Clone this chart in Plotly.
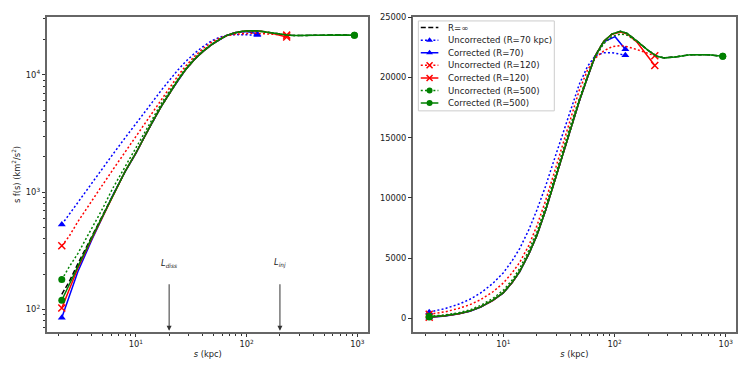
import math
import plotly.graph_objects as go

# ---------------- data ----------------
S_GRID = [2.15, 2.5, 3, 4, 5, 6.2, 8, 10, 12, 14, 17, 20, 24, 28, 34, 40, 48, 57,
          67, 80, 95, 113, 130, 160, 200, 240, 280, 350, 480, 700, 940]

SF_INF = [135, 172, 245, 415, 625, 952, 1500, 2150, 3000, 3900, 5400, 6900, 9000,
          11000, 13600, 15700, 18000, 20000, 21800, 23000, 23600, 23820, 23650,
          23000, 22250, 21750, 21620, 21700, 21880, 21880, 21760]

S_R70_UNC = [2.15, 2.5, 3, 4, 5, 6.2, 8, 10, 12, 14, 17, 20, 24, 28, 34, 40, 48, 57,
             67, 80, 95, 110, 125]
SF_R70_UNC = [530, 645, 830, 1200, 1600, 2100, 2900, 3800, 4800, 5800, 7400, 9000,
              11000, 12900, 15300, 17300, 19400, 20900, 21800, 22050, 22050, 21950, 21830]

S_R70_COR = [2.15, 2.5, 3, 4, 5, 6.2, 8, 10, 12, 14, 17, 20, 24, 28, 34, 40, 48, 57,
             67, 80, 95, 101, 125]
SF_R70_COR = [85, 130, 210, 390, 610, 940, 1490, 2130, 2980, 3880, 5380, 6880, 8980,
              10980, 13580, 15680, 17980, 19980, 21780, 22950, 23300, 23380, 22340]

S_R120_UNC = [2.15, 2.5, 3, 4, 5, 6.2, 8, 10, 12, 14, 17, 20, 24, 28, 34, 40, 48, 57,
              67, 80, 95, 113, 130, 160, 200, 230]
SF_R120_UNC = [350, 420, 560, 850, 1150, 1550, 2200, 2950, 3800, 4650, 6100, 7700,
               9800, 11800, 14400, 16600, 18900, 20600, 21600, 22200, 22550, 22640,
               22550, 22300, 22000, 21800]

S_R120_COR = [2.15, 2.5, 3, 4, 5, 6.2, 8, 10, 12, 14, 17, 20, 24, 28, 34, 40, 48, 57,
              67, 80, 95, 113, 130, 160, 190, 230]
SF_R120_COR = [103, 145, 225, 400, 615, 945, 1495, 2145, 2995, 3895, 5395, 6895, 8995,
               10995, 13595, 15695, 17995, 19995, 21795, 22990, 23580, 23760, 23600,
               22900, 22020, 20990]

SF_R500_UNC = [180, 230, 300, 490, 720, 1080, 1650, 2350, 3200, 4150, 5700, 7200, 9300,
               11300, 13900, 16000, 18200, 20150, 21700, 22800, 23400, 23600, 23500,
               22950, 22250, 21750, 21620, 21700, 21880, 21880, 21760]

SF_R500_COR = [120, 160, 232, 408, 618, 948, 1498, 2148, 2998, 3898, 5398, 6898, 8998,
               10998, 13598, 15698, 17998, 19998, 21798, 22998, 23598, 23818, 23648,
               22998, 22248, 21748, 21618, 21698, 21878, 21878, 21758]

LEGEND_NAMES = ["R=∞", "Uncorrected (R=70 kpc)", "Corrected (R=70)",
                "Uncorrected (R=120)", "Corrected (R=120)",
                "Uncorrected (R=500)", "Corrected (R=500)"]

X_TICKS = [10, 100, 1000]
X_TICK_TEXT = ["10<sup>1</sup>", "10<sup>2</sup>", "10<sup>3</sup>"]
YL_TICKS = [100, 1000, 10000]
YL_TICK_TEXT = ["10<sup>2</sup>", "10<sup>3</sup>", "10<sup>4</sup>"]
YR_TICKS = [0, 5000, 10000, 15000, 20000, 25000]

L_DISS = 20
L_INJ = 200

# ---------------- styling ----------------
BLUE, RED, GREEN, BLACK = "#0000ff", "#ff0000", "#008000", "#000000"
DOT = "2px,2.2px"
DASH = "5px,2.5px"
FONT = "DejaVu Sans"
FS = 8.3
FS_LEG = 8.6

series = [
    (S_GRID, SF_INF, BLACK, DASH, None),
    (S_R70_UNC, SF_R70_UNC, BLUE, DOT, "triangle-up"),
    (S_R70_COR, SF_R70_COR, BLUE, "solid", "triangle-up"),
    (S_R120_UNC, SF_R120_UNC, RED, DOT, "x-thin"),
    (S_R120_COR, SF_R120_COR, RED, "solid", "x-thin"),
    (S_GRID, SF_R500_UNC, GREEN, DOT, "circle"),
    (S_GRID, SF_R500_COR, GREEN, "solid", "circle"),
]


def marker_style(symbol, color, size=7):
    if symbol == "x-thin":
        return dict(symbol=symbol, size=size, color=color, line=dict(color=color, width=1.5))
    return dict(symbol=symbol, size=size, color=color, line=dict(width=0))


fig = go.Figure()
for xa, ya in [("x", "y"), ("x2", "y2")]:
    for s, v, color, dash, symbol in series:
        fig.add_trace(go.Scatter(x=s, y=v, mode="lines", xaxis=xa, yaxis=ya,
                                 line=dict(color=color, width=1.5, dash=dash),
                                 showlegend=False, hoverinfo="skip"))
        if symbol:
            fig.add_trace(go.Scatter(x=[s[0], s[-1]], y=[v[0], v[-1]], mode="markers",
                                     xaxis=xa, yaxis=ya,
                                     marker=marker_style(symbol, color),
                                     showlegend=False, hoverinfo="skip"))

# ---------------- hand-made legend (overlay axes in pixel units) ----------------
LEG_W, LEG_H = 136, 91.3
row_y = [6.7, 19.7, 32.3, 45, 58, 70.7, 83.3]
for (s, v, color, dash, symbol), name, ry in zip(series, LEGEND_NAMES, row_y):
    fig.add_trace(go.Scatter(x=[2.4, 20], y=[ry, ry], mode="lines", xaxis="x3", yaxis="y3",
                             line=dict(color=color, width=1.5, dash=dash),
                             showlegend=False, hoverinfo="skip"))
    if symbol:
        fig.add_trace(go.Scatter(x=[11.2], y=[ry], mode="markers", xaxis="x3", yaxis="y3",
                                 marker=marker_style(symbol, color, 6),
                                 showlegend=False, hoverinfo="skip"))
    fig.add_annotation(x=27.7, y=ry, xref="x3", yref="y3", text=name, showarrow=False,
                       xanchor="left", yanchor="middle",
                       font=dict(family=FONT, size=FS_LEG, color="#222"))

fig.add_shape(type="rect", xref="paper", yref="paper", x0=0.539, x1=0.7363,
              y0=0.702, y1=0.9875, line=dict(color="#cccccc", width=1),
              fillcolor="white", layer="below")

# ---------------- L_diss / L_inj arrows ----------------
for val, lab in [(L_DISS, "<i>L<sub>diss</sub></i>"), (L_INJ, "<i>L<sub>inj</sub></i>")]:
    fig.add_annotation(x=math.log10(val), y=math.log10(66), xref="x", yref="y",
                       ax=math.log10(val), ay=math.log10(200), axref="x", ayref="y",
                       showarrow=True, arrowhead=2, arrowsize=1, arrowwidth=1,
                       arrowcolor="#333", text=" ")
    fig.add_annotation(x=math.log10(val), y=math.log10(212), xref="x", yref="y",
                       text=lab, showarrow=False, yanchor="bottom",
                       font=dict(family=FONT, size=FS, color="#222"))


def minor_log(lo, hi):
    out = []
    for k in range(lo, hi):
        for m in range(2, 10):
            out.append(m * 10 ** k)
    return out


axis_common = dict(showline=True, mirror=True, linecolor="#666", linewidth=1.5,
                   showgrid=False, zeroline=False, ticks="outside", ticklen=3.5,
                   tickwidth=1, tickcolor="#333",
                   tickfont=dict(family=FONT, size=FS, color="#222"))

xtitle = dict(text="<i>s</i> (kpc)", font=dict(family=FONT, size=FS, color="#222"), standoff=3)

# page body has an 8px margin, so the figure is 8px smaller than the window
fig.update_layout(
    width=739, height=366,
    margin=dict(l=39, r=11, t=4, b=42),
    paper_bgcolor="white", plot_bgcolor="rgba(0,0,0,0)",
    showlegend=False,
    xaxis=dict(domain=[0, 0.4666], type="log", range=[0.199, 3.10], anchor="y",
               tickmode="array", tickvals=X_TICKS, ticktext=X_TICK_TEXT,
               minor=dict(tickmode="array", tickvals=minor_log(0, 4), ticks="outside",
                          ticklen=2, tickcolor="#333"),
               title=xtitle, **axis_common),
    yaxis=dict(domain=[0, 1], type="log", range=[1.809, 4.493], anchor="x",
               tickmode="array", tickvals=YL_TICKS, ticktext=YL_TICK_TEXT,
               minor=dict(tickmode="array", tickvals=minor_log(1, 5), ticks="outside",
                          ticklen=2, tickcolor="#333"),
               title=dict(text="s f(s) (km<sup>2</sup>/s<sup>2</sup>)",
                          font=dict(family=FONT, size=FS, color="#222"), standoff=4),
               **axis_common),
    xaxis2=dict(domain=[0.5316, 0.9993], type="log", range=[0.189, 3.088], anchor="y2",
                tickmode="array", tickvals=X_TICKS, ticktext=X_TICK_TEXT,
                minor=dict(tickmode="array", tickvals=minor_log(0, 4), ticks="outside",
                           ticklen=2, tickcolor="#333"),
                title=xtitle, **axis_common),
    yaxis2=dict(domain=[0, 1], range=[-1117, 25010], anchor="x2",
                tickmode="array", tickvals=YR_TICKS, tickformat="d", **axis_common),
    xaxis3=dict(domain=[0.539, 0.7363], range=[0, LEG_W], anchor="y3", visible=False,
                fixedrange=True),
    yaxis3=dict(domain=[0.702, 0.9875], range=[LEG_H, 0], anchor="x3", visible=False,
                fixedrange=True),
)

fig.write_html("out.html")
